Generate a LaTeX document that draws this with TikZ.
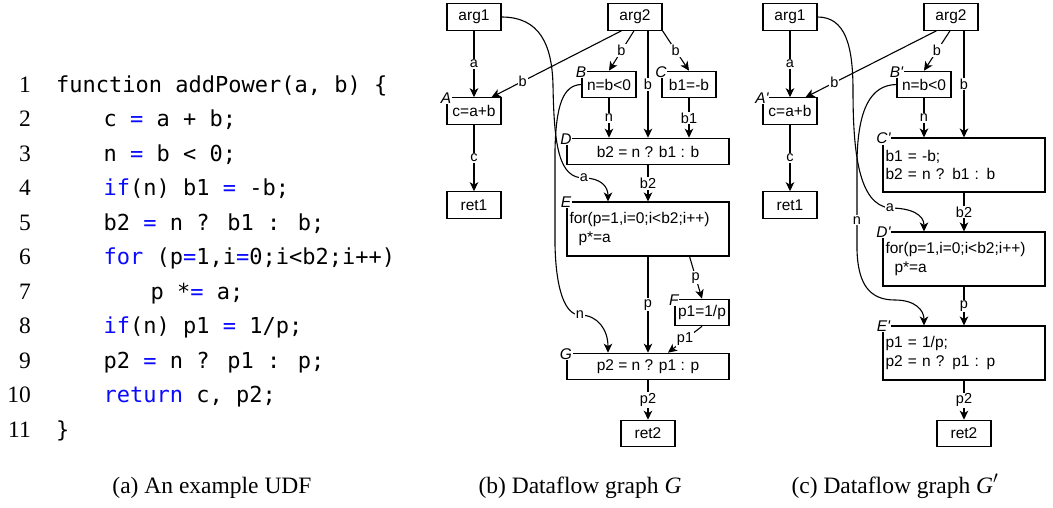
\documentclass[tikz,border=0pt]{standalone}
\usepackage{fontspec}
\setmainfont{Liberation Serif}
\newfontfamily\arialfont{Liberation Sans}
\newfontfamily\codefont{DejaVu Sans Mono}
\usetikzlibrary{arrows.meta,calc}
\definecolor{kwblue}{RGB}{10,10,255}
\newcommand\kwc[1]{\textcolor{kwblue}{#1}}
\newcommand\sq{\char"27\relax}
\tikzset{
 box/.style={draw, line width=1.1pt, minimum width=54pt, minimum height=26.5pt, inner sep=0pt, font=\arialfont\fontsize{15.5}{18.5}\selectfont},
 wide/.style={box, minimum width=162pt},
 multi/.style={wide, minimum height=54pt, text width=157pt, align=left},
 tag/.style={fill=white, inner sep=0.6pt, font=\arialfont\itshape\fontsize{15.5}{18}\selectfont},
 lbl/.style={fill=white, inner sep=1pt, font=\arialfont\fontsize{14.5}{16}\selectfont},
 flow/.style={line width=1.1pt, -{Stealth[length=9pt,width=8.5pt,inset=2.5pt]}},
 codeline/.style={anchor=base west, inner sep=0pt, font=\codefont\fontsize{22}{26}\selectfont},
 lineno/.style={anchor=base east, inner sep=0pt, font=\fontsize{23.5}{28}\selectfont},
 capt/.style={anchor=base, inner sep=0pt, font=\fontsize{23.5}{28}\selectfont},
}
\begin{document}
\begin{tikzpicture}[x=1pt,y=-1pt]
\useasboundingbox (0,0) rectangle (1053,507);
% ---------- code ----------
\foreach \i in {1,...,11} {\node[lineno] (ln\i) at (31,{92+34.5*(\i-1)}) {\i};}
\node[codeline] (c1) at (56,92) {function addPower(a, b) \{};
\node[codeline] (c2) at (103.5,126.5) {c \kwc{=} a + b;};
\node[codeline] (c3) at (103.5,161) {n \kwc{=} b < 0;};
\node[codeline] (c4) at (103.5,195.5) {\kwc{if}(n) b1 \kwc{=} -b;};
\node[codeline] (c5) at (103.5,230) {b2 \kwc{=} n ? b1 : b;};
\node[codeline] (c6) at (103.5,264.5) {\kwc{for} (p\kwc{=}1,i\kwc{=}0;i<b2;i++)};
\node[codeline] (c7) at (150.5,299) {p *\kwc{=} a;};
\node[codeline] (c8) at (103.5,333.5) {\kwc{if}(n) p1 \kwc{=} 1/p;};
\node[codeline] (c9) at (103.5,368) {p2 \kwc{=} n ? p1 : p;};
\node[codeline] (c10) at (103.5,402.5) {\kwc{return} c, p2;};
\node[codeline] (c11) at (56,437) {\}};
% ---------- graph G ----------
\node[box] (bA1) at (474,17) {arg1};
\node[box] (bA2) at (635,17) {arg2};
\node[box] (bA) at (474,111) {c=a+b};
\node[box] (bB) at (609,84.5) {n=b<0};
\node[box] (bC) at (689,84.5) {b1=-b};
\node[wide] (bD) at (648,151.5) {b2 = n ? b1 : b};
\node[box] (bR1) at (474,205) {ret1};
\node[multi] (bE) at (648,229) {for(p=1,i=0;i<b2;i++)\\\hspace*{9pt}p*=a};
\node[box] (bF) at (702,312.5) {p1=1/p};
\node[wide] (bG) at (648,366.5) {p2 = n ? p1 : p};
\node[box] (bR2) at (648,433.5) {ret2};
\node[tag] at ($(bA.north west)+(-0.5,1)$) {A};
\node[tag] at ($(bB.north west)+(-0.5,1)$) {B};
\node[tag] at ($(bC.north west)+(-0.5,1)$) {C};
\node[tag] at ($(bD.north west)+(-0.5,1)$) {D};
\node[tag] at ($(bE.north west)+(-0.5,1)$) {E};
\node[tag] at ($(bF.north west)+(-0.5,1)$) {F};
\node[tag] at ($(bG.north west)+(-0.5,1)$) {G};
\draw[flow] (bA1) -- node[lbl]{a} (bA);
\draw[flow] ($(bA2.south west)+(14,0)$) -- node[lbl,pos=0.76]{b} ($(bA.north east)+(-10,0)$);
\draw[flow] ($(bA2.south)+(-1,0)$) -- node[lbl]{b} (bB.north);
\draw[flow] (bD.north |- bA2.south) -- node[lbl]{b} (bD.north);
\draw[flow] (bA2.south east) -- node[lbl]{b} (bC.north);
\draw[flow] (bB) -- node[lbl]{n} (bB |- bD.north);
\draw[flow] (bC) -- node[lbl]{b1} (bC |- bD.north);
\draw[flow] (bD) -- node[lbl]{b2} (bE);
\draw[flow] (bA) -- node[lbl]{c} (bR1);
\draw[flow] (bE) -- node[lbl]{p} (bG);
\draw[flow] ($(bE.south east)+(-40,0)$) -- node[lbl]{p} (bF.north);
\draw[flow] (bF.south) -- node[lbl]{p1} ($(bG.north)+(20,0)$);
\draw[flow] (bG) -- node[lbl]{p2} (bR2);
\draw[flow] (bA1.east) .. controls (540,17) and (552,45) .. (553,85) .. controls (554,150) and (560,178) .. (584,178) node[lbl]{a} .. controls (600,178) and (608,186) .. ($(bE.north)+(-40,0)$);
\draw[flow] (bB.west) .. controls (563,85) and (556,105) .. (555,150) -- (555,245) .. controls (556,290) and (565,315) .. (580,315) node[lbl]{n} .. controls (598,315) and (608,330) .. ($(bG.north)+(-40,0)$);
% ---------- graph G' ----------
\node[box] (cA1) at (790,17) {arg1};
\node[box] (cA2) at (951,17) {arg2};
\node[box] (cA) at (790,111) {c=a+b};
\node[box] (cB) at (924,84.5) {n=b<0};
\node[multi] (cC) at (964,165) {b1 = -b;\\b2 = n ? b1 : b};
\node[box] (cR1) at (790,205) {ret1};
\node[multi] (cD) at (964,259) {for(p=1,i=0;i<b2;i++)\\\hspace*{9pt}p*=a};
\node[multi] (cE) at (964,353) {p1 = 1/p;\\p2 = n ? p1 : p};
\node[box] (cR2) at (964,433.5) {ret2};
\node[tag] at ($(cA.north west)+(-0.5,1)$) {A\sq};
\node[tag] at ($(cB.north west)+(0,1)$) {B\sq};
\node[tag] at ($(cC.north west)+(1,1)$) {C\sq};
\node[tag] at ($(cD.north west)+(1,1)$) {D\sq};
\node[tag] at ($(cE.north west)+(1,1)$) {E\sq};
\draw[flow] (cA1) -- node[lbl]{a} (cA);
\draw[flow] ($(cA2.south west)+(13,0)$) -- node[lbl,pos=0.78]{b} ($(cA.north east)+(-12,0)$);
\draw[flow] ($(cA2.south)+(-1,0)$) -- node[lbl]{b} (cB.north);
\draw[flow] (cC.north |- cA2.south) -- node[lbl]{b} (cC.north);
\draw[flow] (cB) -- node[lbl]{n} (cB |- cC.north);
\draw[flow] (cA) -- node[lbl]{c} (cR1);
\draw[flow] (cC) -- node[lbl]{b2} (cD);
\draw[flow] (cD) -- node[lbl]{p} (cE);
\draw[flow] (cE) -- node[lbl]{p2} (cR2);
\draw[flow] (cA1.east) .. controls (845,17) and (853,45) .. (853,90) .. controls (853,150) and (858,205) .. (890,208) node[lbl]{a} .. controls (912,208) and (924,215) .. ($(cD.north)+(-40,0)$);
\draw[flow] (cB.west) .. controls (870,85) and (858,110) .. (857,160) -- (857,250) node[lbl,pos=0.67]{n} .. controls (858,285) and (870,300) .. (895,300) .. controls (915,300) and (924,310) .. ($(cE.north)+(-40,0)$);
% ---------- captions ----------
\node[capt] (capa) at (212,493) {(a) An example UDF};
\node[capt] (capb) at (580,493) {(b) Dataflow graph \textit{G}};
\node[capt] (capc) at (895,493) {(c) Dataflow graph \textit{G}$'$};
\end{tikzpicture}
\end{document}
